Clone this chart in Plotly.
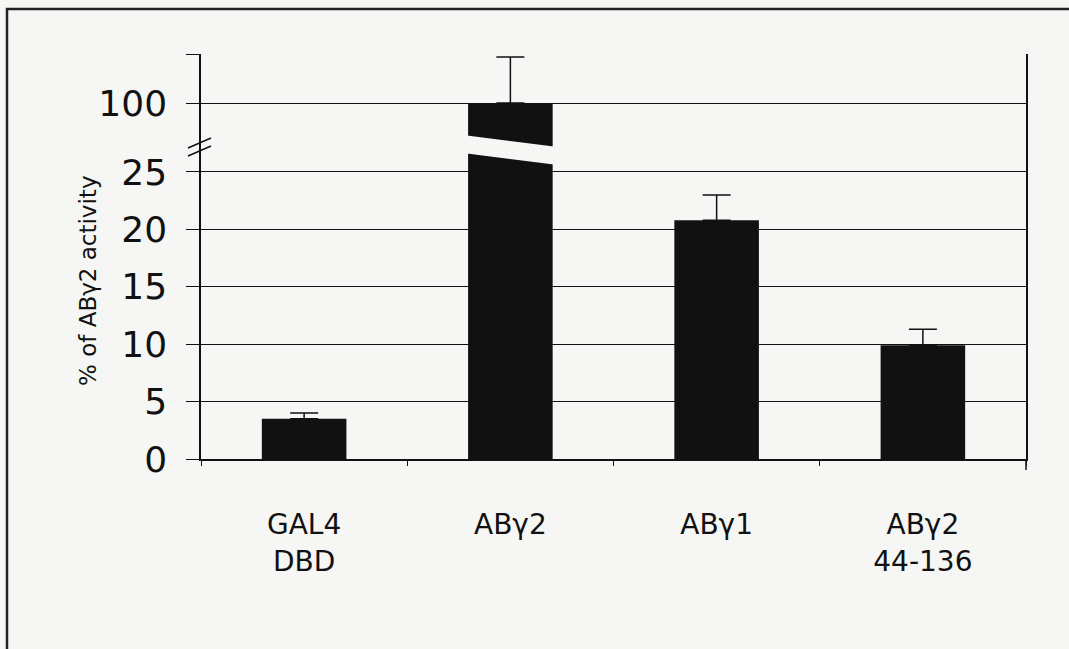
import plotly.graph_objects as go

# Reporter activity relative to ABγ2 (%), with SEM
categories = ["GAL4<br>DBD", "ABγ2", "ABγ1", "ABγ2<br>44-136"]
activity = [3.5, 100, 20.8, 9.9]
sem = [0.5, 4.0, 2.2, 1.4]
sem_minus = [0, 0, 0, 0]

lower_ticks = [0, 5, 10, 15, 20, 25]
upper_ticks = [100, 104.25]
upper_ticktext = ["100", ""]

BG = "#f6f6f4"
INK = "#111111"
FONT = "DejaVu Sans"

W, H = 1069, 649
ML, MR, MT, MB = 201, 43, 54, 190
plot_h = H - MT - MB            # 405 px
px_per_unit = 11.48             # same scale above and below the break
split = 0.763                   # break position as a fraction of plot height

lower_top = split * plot_h / px_per_unit
upper_top = 100 + 49 / px_per_unit
upper_bottom = upper_top - (1 - split) * plot_h / px_per_unit

bar_kw = dict(
    x=categories,
    y=activity,
    width=0.41,
    marker=dict(color=INK, line=dict(width=0)),
    error_y=dict(type="data", array=sem, arrayminus=sem_minus, symmetric=False,
                 color=INK, thickness=1.5, width=14),
    showlegend=False,
    hoverinfo="skip",
)

fig = go.Figure()
fig.add_trace(go.Bar(yaxis="y", **bar_kw))
fig.add_trace(go.Bar(yaxis="y2", **bar_kw))

axis_common = dict(
    showline=True, linecolor=INK, linewidth=1.5, mirror=True,
    ticks="outside", ticklen=13, tickwidth=1.4, tickcolor=INK,
    showgrid=True, gridcolor=INK, gridwidth=1.4, zeroline=False,
    tickfont=dict(family=FONT, size=36, color=INK),
    ticklabelstandoff=12, fixedrange=True,
)

fig.update_layout(
    width=W, height=H,
    margin=dict(l=ML, r=MR, t=MT, b=MB),
    paper_bgcolor=BG, plot_bgcolor=BG,
    xaxis=dict(
        type="category", anchor="y", showline=True, linecolor=INK, linewidth=1.5,
        ticks="outside", tickson="boundaries", ticklen=5, tickwidth=1.4, tickcolor=INK,
        showgrid=False, tickfont=dict(family=FONT, size=28, color=INK),
        ticklabelstandoff=40, fixedrange=True,
    ),
    yaxis=dict(domain=[0, split], range=[0, lower_top], tickmode="array",
               tickvals=lower_ticks, **axis_common),
    yaxis2=dict(domain=[split, 1], range=[upper_bottom, upper_top], anchor="x",
                tickmode="array", tickvals=upper_ticks, ticktext=upper_ticktext,
                **axis_common),
)


def py(ypix):
    return (H - MB - ypix) / plot_h


def px(xpix):
    return (xpix - ML) / (W - ML - MR)


# slanted gap across the broken ABγ2 bar
x_l, x_r = (1 + 0.5 - 0.23) / 4, (1 + 0.5 + 0.23) / 4
fig.add_shape(
    type="path", xref="x domain", yref="paper", layer="above",
    path=f"M {x_l},{py(135)} L {x_r},{py(147)} L {x_r},{py(165)} L {x_l},{py(153)} Z",
    fillcolor=BG, line=dict(width=0),
)

# axis break marks on the y axis
for dy in (0, 8):
    fig.add_shape(type="line", xref="paper", yref="paper",
                  x0=px(188), y0=py(148 + dy), x1=px(211), y1=py(138 + dy),
                  line=dict(color=INK, width=1.5))

# right axis extends slightly below the baseline
fig.add_shape(type="line", xref="paper", yref="paper",
              x0=1, y0=0, x1=1, y1=py(470), line=dict(color=INK, width=1.5))

# outer frame
fig.add_shape(type="rect", xref="paper", yref="paper",
              x0=px(7), y0=py(660), x1=px(1080), y1=py(9),
              line=dict(color="#222222", width=2.5), fillcolor="rgba(0,0,0,0)")

# y-axis title
fig.add_annotation(
    text="% of ABγ2 activity", xref="paper", yref="paper",
    x=px(88), y=py(281), textangle=-90, showarrow=False,
    font=dict(family=FONT, size=23, color=INK), xanchor="center", yanchor="middle",
)

fig.write_html("out.html")
